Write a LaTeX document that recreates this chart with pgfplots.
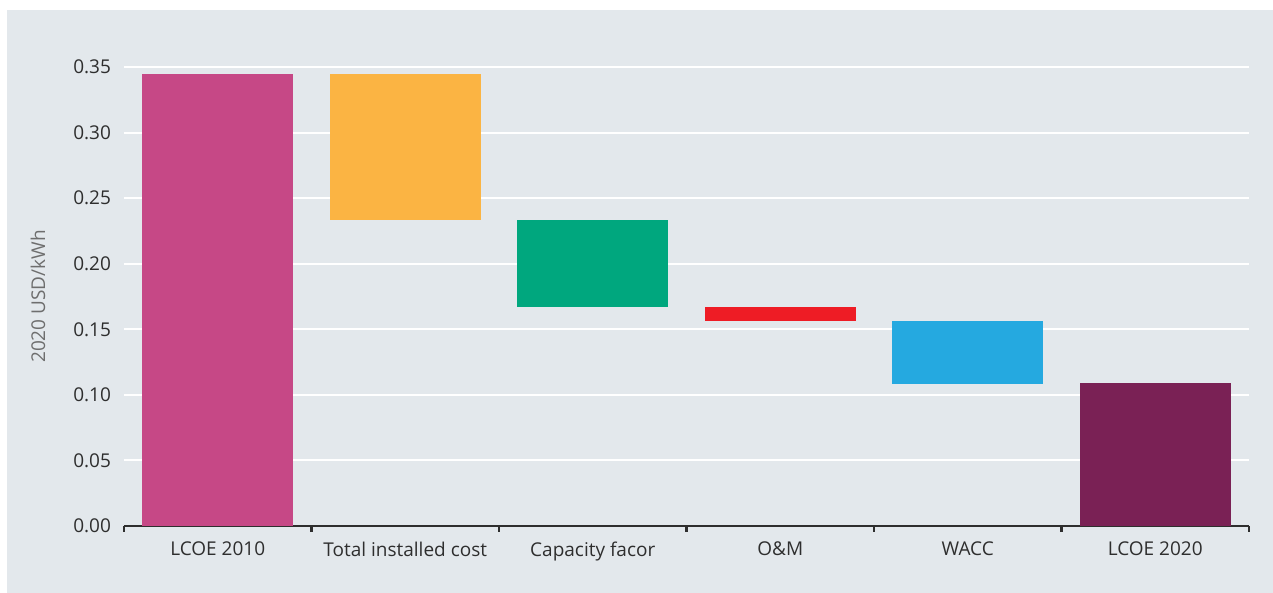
\documentclass[border=0pt]{standalone}
\usepackage{pgfplots}
\pgfplotsset{compat=1.18}
\usepackage{pgfplotstable}
\usepackage{fontspec}
\setmainfont{Open Sans}

\definecolor{bg}{HTML}{E3E8EC}
\definecolor{txt}{HTML}{2E2E2E}
\definecolor{lbl}{HTML}{6E6E6E}
\definecolor{c2010}{HTML}{C64886}
\definecolor{ctic}{HTML}{FBB443}
\definecolor{ccf}{HTML}{00A77E}
\definecolor{com}{HTML}{EE1C25}
\definecolor{cwacc}{HTML}{25A9E0}
\definecolor{c2020}{HTML}{7A2155}

% waterfall: invisible base + one column per coloured step
\pgfplotstableread{
x base    a      b      c      d      e      f
0 0       0.3447 0      0      0      0      0
1 0.2333  0      0.1114 0      0      0      0
2 0.1670  0      0      0.0663 0      0      0
3 0.1563  0      0      0      0.0107 0      0
4 0.1083  0      0      0      0      0.0480 0
5 0       0      0      0      0      0      0.1090
}\steps

\begin{document}
\begin{tikzpicture}
\useasboundingbox (0,0) rectangle (636.5pt,296.5pt);
\fill[bg] (3.5pt,0) rectangle (636.5pt,291.5pt);
\begin{axis}[
  at={(62pt,33.5pt)}, anchor=south west,
  scale only axis,
  width=562.5pt, height=229.5pt,
  ybar stacked, bar width=0.805,
  xmin=-0.5, xmax=5.5,
  ymin=0, ymax=0.35,
  ytick={0,0.05,...,0.35},
  yticklabels={0.00,0.05,0.10,0.15,0.20,0.25,0.30,0.35},
  ymajorgrids=true,
  grid style={white, line width=1pt},
  axis x line*=bottom,
  axis y line*=left,
  y axis line style={draw=none},
  x axis line style={draw=txt, line width=1.1pt},
  ytick style={draw=none},
  xtick={0,...,5},
  xticklabels={LCOE 2010,Total installed cost,Capacity facor,O\&M,WACC,LCOE 2020},
  minor xtick={-0.5,0.5,...,5.5},
  tick align=outside,
  xtick pos=bottom,
  major tick length=0pt,
  minor tick length=3pt,
  minor x tick style={draw=txt, line width=1.1pt},
  x tick label style={font=\fontsize{9.5}{11}\selectfont, text=txt, yshift=-4.5pt},
  y tick label style={font=\fontsize{9.5}{11}\selectfont, text=txt, xshift=-3pt},
  /pgf/number format/assume math mode=true,
  ylabel={2020 USD/kWh},
  ylabel style={font=\fontsize{9.5}{11}\selectfont, text=lbl, at={(axis description cs:-0.0764,0.5)}, anchor=center},
  clip=false,
]
\addplot[draw=none, fill=none] table[x=x, y=base] {\steps};
\addplot[draw=none, fill=c2010] table[x=x, y=a] {\steps};
\addplot[draw=none, fill=ctic] table[x=x, y=b] {\steps};
\addplot[draw=none, fill=ccf] table[x=x, y=c] {\steps};
\addplot[draw=none, fill=com] table[x=x, y=d] {\steps};
\addplot[draw=none, fill=cwacc] table[x=x, y=e] {\steps};
\addplot[draw=none, fill=c2020] table[x=x, y=f] {\steps};
\end{axis}
\end{tikzpicture}
\end{document}
